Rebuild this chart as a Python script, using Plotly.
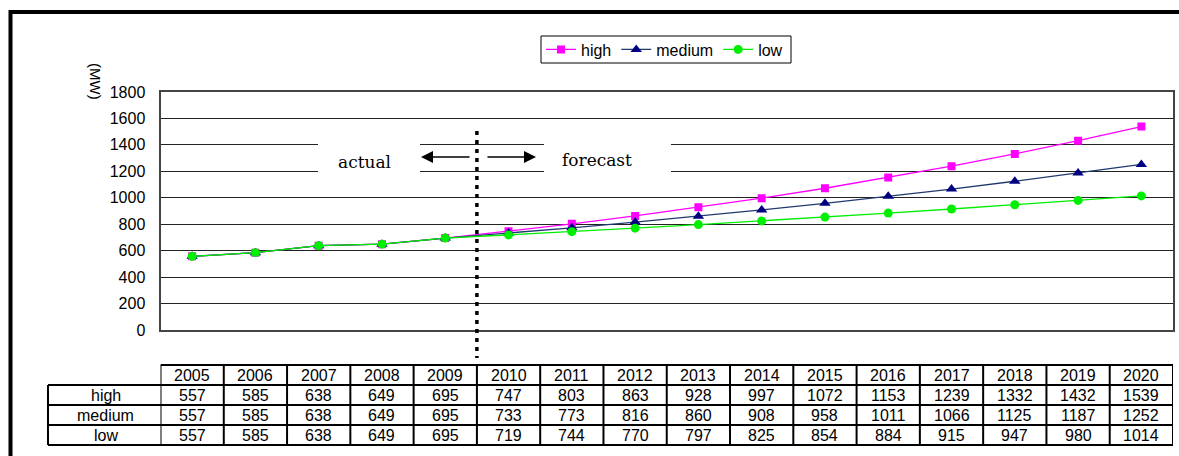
import plotly.graph_objects as go

years = [str(y) for y in range(2005, 2021)]
high = [557, 585, 638, 649, 695, 747, 803, 863, 928, 997, 1072, 1153, 1239, 1332, 1432, 1539]
medium = [557, 585, 638, 649, 695, 733, 773, 816, 860, 908, 958, 1011, 1066, 1125, 1187, 1252]
low = [557, 585, 638, 649, 695, 719, 744, 770, 797, 825, 854, 884, 915, 947, 980, 1014]
series_names = ["high", "medium", "low"]
y_ticks = list(range(0, 1801, 200))

W, H = 1179, 456
def px(x):
    return x / W
def py(y):
    return 1 - y / H

FONT = "Liberation Sans, Arial, sans-serif"
SERIF = "DejaVu Serif, serif"

fig = go.Figure()

styles = [
    dict(color="#FF00FF", line="#FF00FF", symbol="square", size=8),
    dict(color="#000080", line="#1F3A6E", symbol="triangle-up", size=10),
    dict(color="#00EE00", line="#00EE00", symbol="circle", size=9),
]
series_vals = [high, medium, low]
for name, vals, st in zip(series_names, series_vals, styles):
    fig.add_trace(go.Scatter(
        x=years, y=vals, name=name, mode="lines+markers",
        line=dict(color=st["line"], width=1.3),
        marker=dict(color=st["color"], symbol=st["symbol"], size=st["size"], line=dict(width=0)),
    ))

shapes = [
    # outer frame
    dict(type="rect", xref="paper", yref="paper", x0=px(10.5), x1=1.05, y0=py(12), y1=-0.1,
         line=dict(color="black", width=4), fillcolor="rgba(0,0,0,0)", layer="above"),
    # legend box
    dict(type="rect", xref="paper", yref="paper", x0=px(541), x1=px(791), y0=py(63), y1=py(36),
         line=dict(color="black", width=1), fillcolor="rgba(0,0,0,0)", layer="above"),
    # white boxes behind labels (break gridlines)
    dict(type="rect", xref="paper", yref="paper", x0=px(318), x1=px(420), y0=py(178), y1=py(139),
         line=dict(width=0), fillcolor="white", layer="above"),
    dict(type="rect", xref="paper", yref="paper", x0=px(544), x1=px(671), y0=py(178), y1=py(139),
         line=dict(width=0), fillcolor="white", layer="above"),
    # actual / forecast divider
    dict(type="line", xref="x", yref="paper", x0=4.5, x1=4.5, y0=py(131), y1=py(358),
         line=dict(color="black", width=3.5, dash="4px,5px"), layer="above"),
]

annotations = [
    dict(text="actual", xref="paper", yref="paper", x=px(364), y=py(162), showarrow=False,
         xanchor="center", yanchor="middle", font=dict(family=SERIF, size=17, color="black")),
    dict(text="forecast", xref="paper", yref="paper", x=px(597), y=py(160), showarrow=False,
         xanchor="center", yanchor="middle", font=dict(family=SERIF, size=17, color="black")),
    dict(text="", xref="paper", yref="paper", x=px(421), y=py(157), ax=50, ay=0,
         showarrow=True, arrowhead=2, arrowsize=1.6, arrowwidth=1.5, arrowcolor="black"),
    dict(text="", xref="paper", yref="paper", x=px(536), y=py(157), ax=-50, ay=0,
         showarrow=True, arrowhead=2, arrowsize=1.6, arrowwidth=1.5, arrowcolor="black"),
    dict(text="(MW)", xref="paper", yref="paper", x=px(95), y=py(81), showarrow=False,
         textangle=90, xanchor="center", yanchor="middle", font=dict(family=FONT, size=15, color="black")),
]

# ---- data table under the chart (cells aligned to the category axis) ----
T_TOP, ROW_H = 365, 20
row_y = [T_TOP + ROW_H * (k + 0.5) for k in range(4)]
TLINE = dict(color="black", width=2)
n = len(years)
# horizontal rules
shapes.append(dict(type="line", xref="x", yref="paper", x0=-0.5, x1=n - 0.5,
                   y0=py(T_TOP), y1=py(T_TOP), line=TLINE))
for k in range(1, 5):
    yy = py(T_TOP + ROW_H * k)
    shapes.append(dict(type="line", xref="paper", yref="paper", x0=px(48), x1=px(1173),
                       y0=yy, y1=yy, line=TLINE))
# vertical rules
for i in range(n + 1):
    shapes.append(dict(type="line", xref="x", yref="paper", x0=i - 0.5, x1=i - 0.5,
                       y0=py(T_TOP), y1=py(T_TOP + 4 * ROW_H), line=TLINE))
shapes.append(dict(type="line", xref="paper", yref="paper", x0=px(48), x1=px(48),
                   y0=py(T_TOP + ROW_H), y1=py(T_TOP + 4 * ROW_H), line=TLINE))
TFONT = dict(family=FONT, size=16, color="black")
for i, yr in enumerate(years):
    annotations.append(dict(text=yr, xref="x", yref="paper", x=i, y=py(row_y[0]),
                            showarrow=False, xanchor="center", yanchor="middle", font=TFONT))
for r, (name, vals) in enumerate(zip(series_names, series_vals)):
    annotations.append(dict(text=name, xref="paper", yref="paper", x=px(105.5), y=py(row_y[r + 1]),
                            showarrow=False, xanchor="center", yanchor="middle", font=TFONT))
    for i, v in enumerate(vals):
        annotations.append(dict(text=str(v), xref="x", yref="paper", x=i, y=py(row_y[r + 1]),
                                showarrow=False, xanchor="center", yanchor="middle", font=TFONT))

fig.update_layout(
    width=W, height=H, autosize=False,
    margin=dict(l=0, r=0, t=0, b=0, pad=0, autoexpand=False),
    paper_bgcolor="white", plot_bgcolor="white",
    font=dict(family=FONT, size=16, color="black"),
    showlegend=True,
    legend=dict(orientation="h", x=px(541), y=py(49.5), xanchor="left", yanchor="middle",
                borderwidth=0, bgcolor="rgba(0,0,0,0)",
                font=dict(family=FONT, size=16, color="black"),
                itemwidth=30, tracegroupgap=0),
    xaxis=dict(domain=[px(160.5), px(1173)], type="category", range=[-0.5, n - 0.5],
               showticklabels=False, automargin=False,
               showgrid=False, zeroline=False, showline=True, mirror=True,
               linecolor="#444", linewidth=2, ticks=""),
    yaxis=dict(domain=[py(330), py(92)], range=[0, 1800], tickvals=y_ticks, automargin=False,
               showgrid=True, gridcolor="#222", gridwidth=1, zeroline=False,
               showline=True, mirror=True, linecolor="#444", linewidth=2,
               ticks="", ticklabelstandoff=10,
               tickfont=dict(family=FONT, size=16, color="black")),
    shapes=shapes,
    annotations=annotations,
)

fig.write_html("out.html", config={"displayModeBar": False},
               post_script="document.body.style.margin='0';document.body.style.overflow='hidden';")
